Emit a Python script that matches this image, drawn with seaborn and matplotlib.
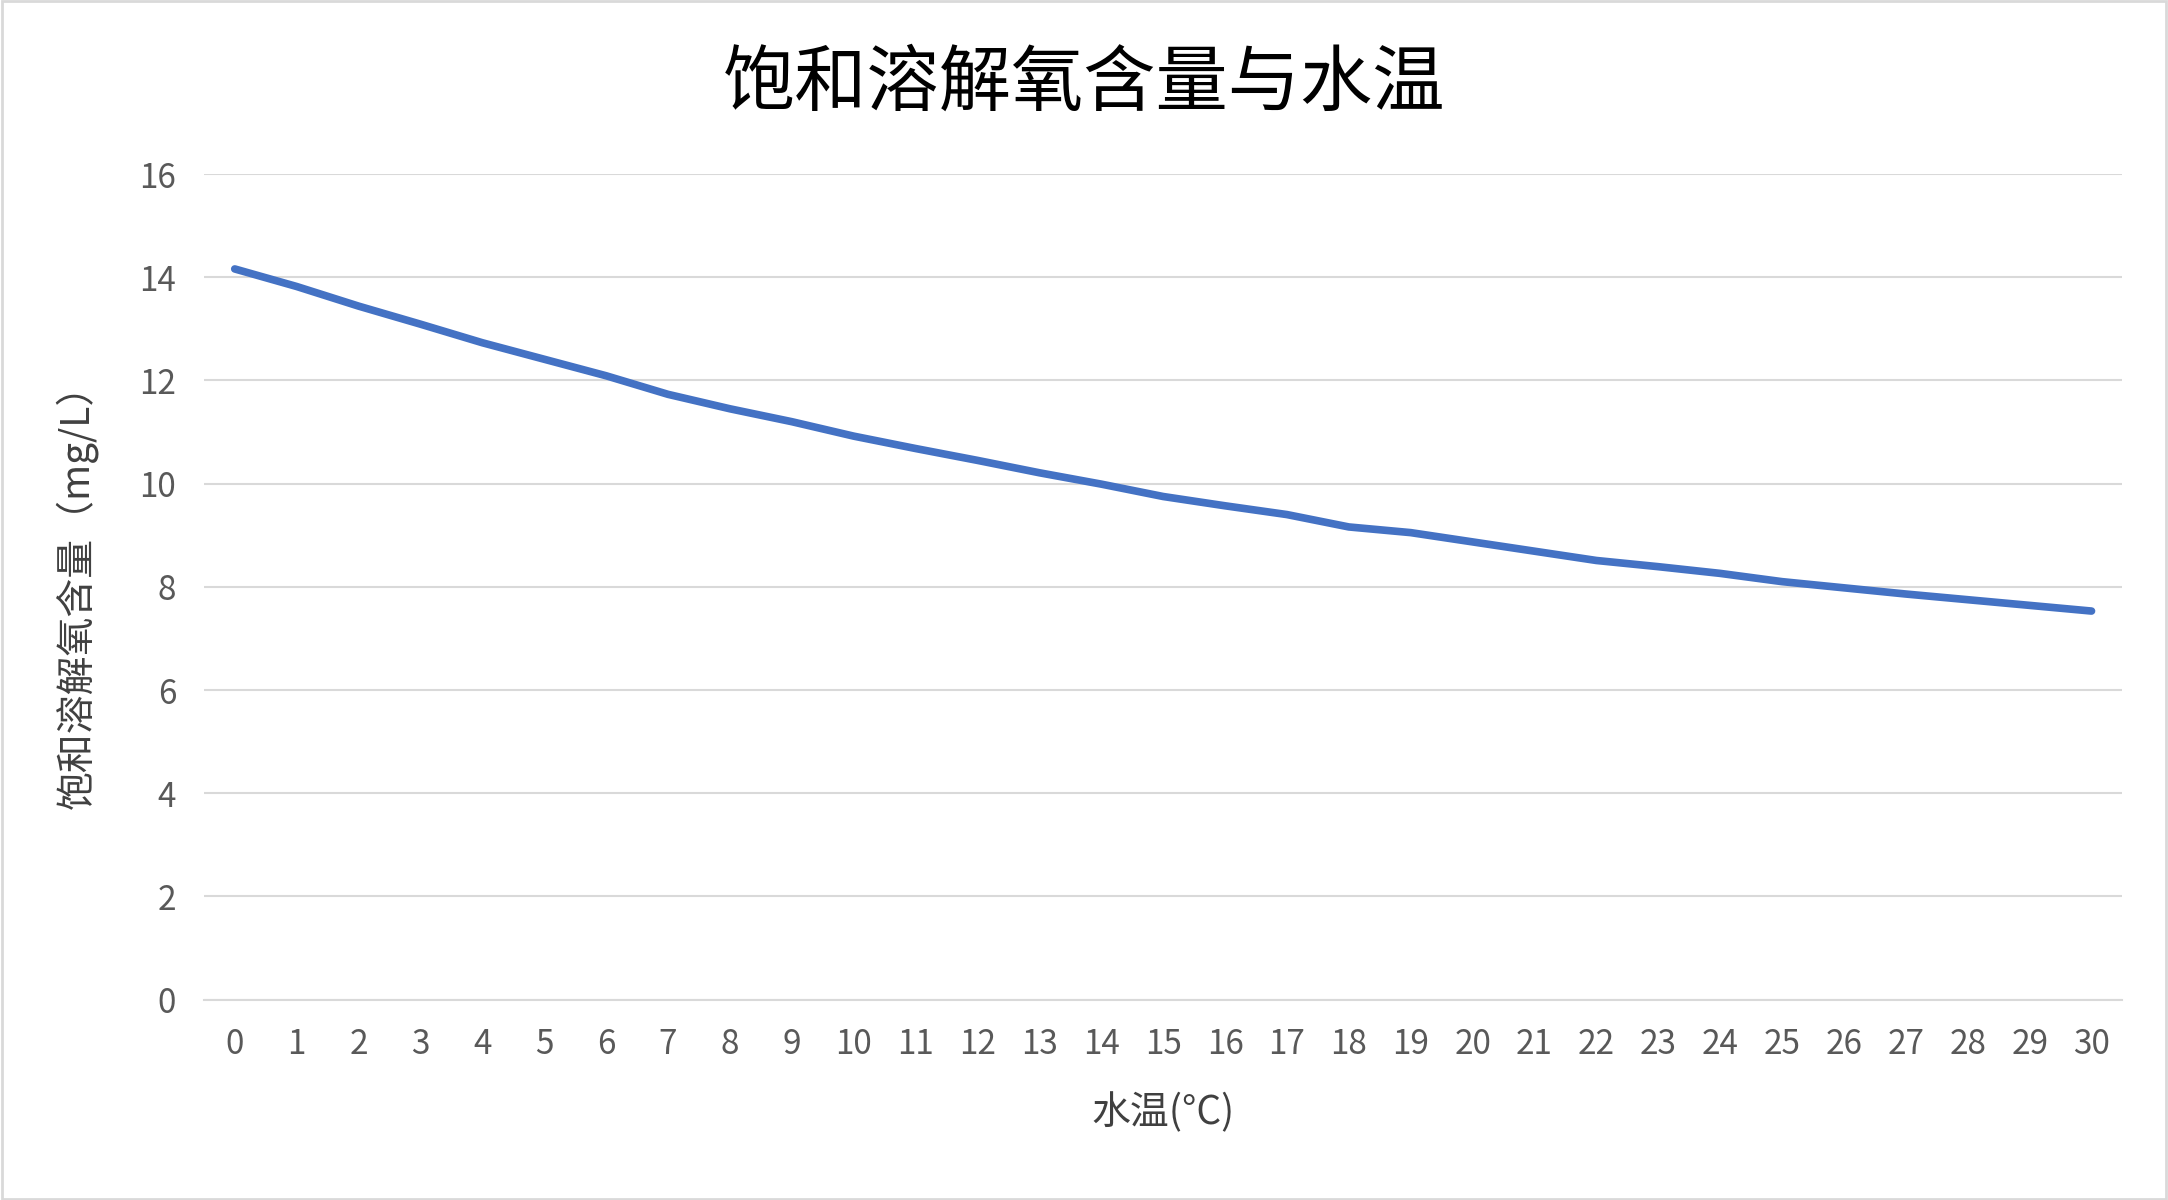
import matplotlib
matplotlib.use("Agg")
import matplotlib.pyplot as plt
import seaborn as sns
import pandas as pd

temps = list(range(31))
oxygen = [14.16, 13.82, 13.44, 13.09, 12.73, 12.41, 12.09, 11.73, 11.45, 11.20,
          10.92, 10.68, 10.45, 10.21, 9.99, 9.75, 9.57, 9.40, 9.16, 9.05,
          8.87, 8.69, 8.51, 8.39, 8.26, 8.10, 7.98, 7.86, 7.75, 7.64, 7.53]
title = "饱和溶解氧含量与水温"
xlabel = "水温(°C)"
ylabel = "饱和溶解氧含量（mg/L）"

sns.set_theme(style="white")
plt.rcParams['font.family'] = ['Noto Sans CJK SC', 'DejaVu Sans']

df = pd.DataFrame({"t": temps, "o": oxygen})
fig = plt.figure(figsize=(21.68, 12), dpi=100)
ax = fig.add_axes([0.094, 0.167, 0.885, 0.688])
sns.lineplot(data=df, x="t", y="o", ax=ax, color="#4472C4", linewidth=5.5)

ax.set_xlim(-0.5, 30.5)
ax.set_ylim(0, 16)
ax.set_xticks(temps)
ax.set_yticks(range(0, 17, 2))
ax.grid(axis="y", color="#D9D9D9", linewidth=1.5)
for s in ["top", "right", "left"]:
    ax.spines[s].set_visible(False)
ax.spines["bottom"].set_color("#D9D9D9")
ax.spines["bottom"].set_linewidth(1.5)
ax.tick_params(axis="both", colors="#595959", labelsize=24, length=0, pad=20)
ax.set_xlabel(xlabel, fontsize=28, color="#404040", labelpad=22)
ax.set_ylabel(ylabel, fontsize=28, color="#404040", labelpad=30)
fig.suptitle(title, fontsize=52, y=0.96, color="black")

fig.patches.append(plt.Rectangle((0.001, 0.001), 0.998, 0.998, transform=fig.transFigure,
                                 fill=False, edgecolor="#D9D9D9", linewidth=2))
fig.savefig("out.png", dpi=100)
